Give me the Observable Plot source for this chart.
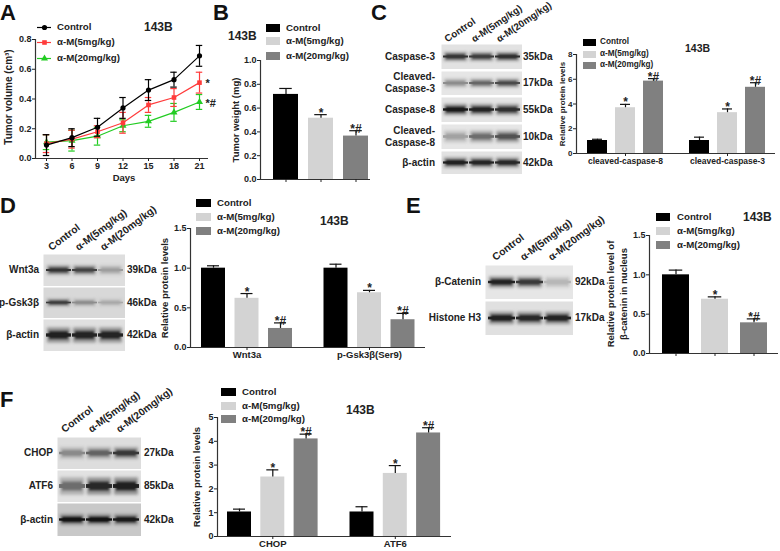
<!DOCTYPE html>
<html><head><meta charset="utf-8">
<script src="https://cdn.jsdelivr.net/npm/d3@7"></script>
<script src="https://cdn.jsdelivr.net/npm/@observablehq/plot@0.6"></script>
<style>
html,body{margin:0;padding:0;background:#fff}
#fig{position:relative;width:780px;height:551px;overflow:hidden;font-family:"Liberation Sans",Arial,sans-serif;font-weight:bold;color:#222}
#fig>svg{position:absolute;background:transparent}
.t{position:absolute;white-space:pre;line-height:1.12}
.k{position:absolute}
</style></head><body><div id="fig"></div>
<script>
const treatments=["Control","α-M(5mg/kg)","α-M(20mg/kg)"];
const barColors=["#000000","#d3d3d3","#808080"];
const lineColors=["#000000","#ff3b3b","#22cc22"];
const lineSymbols=["circle","square","triangle"];

const days=[3,6,9,12,15,18,21];
const aMeans=[[.09,.14,.21,.34,.46,.53,.69],[.10,.13,.18,.24,.36,.41,.51],[.11,.12,.15,.22,.25,.31,.38]];
const aErrs=[[.07,.06,.06,.07,.07,.05,.07],[.06,.06,.04,.07,.05,.06,.07],[.05,.07,.06,.04,.04,.06,.05]];
const aMarks=["","*","*#"];

const bGroups=[""],bMeans=[[.715,.515,.365]],bErrs=[[.05,.03,.045]],bMarks=[["","*","*#"]];
const cGroups=["cleaved-caspase-8","cleaved-caspase-3"],cMeans=[[1.05,3.7,5.85],[1.05,3.3,5.35]],cErrs=[[.1,.27,.2],[.27,.3,.37]],cMarks=[["","*","*#"],["","*","*#"]];
const dGroups=["Wnt3a","p-Gsk3β(Ser9)"],dMeans=[[1,.62,.24],[1,.69,.35]],dErrs=[[.03,.06,.07],[.05,.03,.08]],dMarks=[["","*","*#"],["","*","*#"]];
const eGroups=[""],eMeans=[[1,.69,.39]],eErrs=[[.06,.03,.05]],eMarks=[["","*","*#"]];
const fGroups=["CHOP","ATF6"],fMeans=[[1.03,2.5,4.1],[1.03,2.65,4.35]],fErrs=[[.12,.3,.2],[.22,.33,.22]],fMarks=[["","*","*#"],["","*","*#"]];

const cBlots=["Caspase-3","Cleaved-\nCaspase-3","Caspase-8","Cleaved-\nCaspase-8","β-actin"],cKda=["35kDa","17kDa","55kDa","10kDa","42kDa"];
const cDark=[[.82,.78,.85],[.4,.58,.72],[.95,.9,.85],[.3,.55,.68],[.92,.9,.88]],cThick=[.2,.2,.24,.26,.24];
const cBg=["#e2e2e2","#e6e6e6","#e4e4e4","#e6e6e6","#e2e2e2"];
const dBlots=["Wnt3a","p-Gsk3β","β-actin"],dKda=["39kDa","46kDa","42kDa"];
const dDark=[[.82,.75,.32],[.78,.4,.26],[.92,.9,.9]],dThick=[.16,.13,.26];
const dBg=["#dedede","#d8d8d8","#e0e0e0"];
const eBlots=["β-Catenin","Histone H3"],eKda=["92kDa","17kDa"];
const eDark=[[.9,.8,.2],[.92,.88,.9]],eThick=[.18,.2];
const eBg=["#e6e6e6","#e0e0e0"];
const fBlots=["CHOP","ATF6","β-actin"],fKda=["27kDa","85kDa","42kDa"];
const fDark=[[.42,.6,.8],[.55,.88,.92],[.98,.98,.95]],fThick=[.2,.3,.18];
const fBg=["#dddddd","#e2e2e2","#c8c8c8"];

const fig=document.getElementById("fig");
const FONT='"Liberation Sans",Arial,sans-serif';
function text(s,x,y,o={}){
  const e=document.createElement("div");e.className="t";e.textContent=s;
  const size=o.size||10;e.style.fontSize=size+"px";
  if(o.color)e.style.color=o.color;
  if(o.lh)e.style.lineHeight=o.lh;
  e.style.textAlign=o.align||"left";
  e.style.left=x+"px";e.style.top=y+"px";
  const tx=o.align==="right"?"-100%":o.align==="center"?"-50%":"0";
  e.style.transform=o.rotate?`translateY(-100%) rotate(${o.rotate}deg)`:`translate(${tx},-50%)`;
  if(o.rotate)e.style.transformOrigin="0 100%";
  fig.appendChild(e);
}
function letter(s,x,y){text(s,x,y,{size:22,color:"#111",lh:1.15});}
function put(p,left,top){p.style.left=left+"px";p.style.top=top+"px";fig.appendChild(p);}
function swatch(x,y,w,h,c){const e=document.createElement("div");e.className="k";Object.assign(e.style,{left:x+"px",top:y-h/2+"px",width:w+"px",height:h+"px",background:c});fig.appendChild(e);}
function legend(x,w,h,tx,ys,size){treatments.forEach((t,i)=>{swatch(x,ys[i],w,h,barColors[i]);text(t,tx,ys[i],{size});});}
function lanes(xs,ys,size,angle=-37){treatments.forEach((t,i)=>text(t,xs[i],ys,{size,rotate:angle}));}

function bars(o){
  const {groups,means,errs,marks,ax,right,top,bottom,max,ticks,fmt,first,barW,pitch,groupPitch,tick,title,titleOff,titleSize,catSize,perBar,lh}=o;
  const step=(groupPitch||0)/pitch, half=barW/pitch/2;
  const rows=groups.flatMap((g,gi)=>treatments.map((t,mi)=>({t,mi,pos:gi*step+mi,v:means[gi][mi],e:errs[gi][mi],m:marks[gi][mi]})));
  const ml=34,mt=8,mb=20,mr=2;
  const xd=[(ax-first)/pitch,(right-first)/pitch];
  const centers=perBar?[0,1,2]:groups.map((g,i)=>i*step+1);
  const p=Plot.plot({
    width:right-ax+ml+mr,height:bottom-top+mt+mb,marginLeft:ml,marginRight:mr,marginTop:mt,marginBottom:mb,
    style:{fontFamily:FONT,fontWeight:"bold",color:"#222",overflow:"visible",background:"transparent"},
    x:{domain:xd,axis:null},y:{domain:[0,max],axis:null},
    marks:[
      Plot.rect(rows,{x1:d=>d.pos-half,x2:d=>d.pos+half,y1:0,y2:"v",fill:d=>barColors[d.mi]}),
      Plot.ruleX(rows,{x:"pos",y1:"v",y2:d=>d.v+d.e,stroke:"#111",strokeWidth:1.2}),
      Plot.ruleY(rows,{x1:d=>d.pos-half*.5,x2:d=>d.pos+half*.5,y:d=>d.v+d.e,stroke:"#111",strokeWidth:1.2}),
      Plot.text(rows,{x:"pos",y:d=>d.v+d.e,text:"m",dy:2,lineAnchor:"bottom",fontSize:12,fill:"#222"}),
      Plot.ruleY([0],{stroke:"#333",strokeWidth:1.2}),
      Plot.ruleX([xd[0]],{y1:0,y2:max,stroke:"#333",strokeWidth:1.2}),
      Plot.axisY({ticks,tickFormat:fmt,tickSize:3,tickPadding:1,fontSize:tick,label:null,fontWeight:"bold"}),
      Plot.axisX({ticks:centers,tickFormat:(d,i)=>perBar?"":groups[i],tickSize:3,tickPadding:1,fontSize:catSize,label:null,fontWeight:"bold"})
    ]});
  put(p,ax-ml,top-mt);
  text(title,titleOff,(top+bottom)/2,{size:titleSize,align:"center",lh});
  fig.lastChild.style.transform="translate(-50%,-50%) rotate(-90deg)";
}

function gel(x1,x2,strips,dark,thick,bgs){
  strips.forEach((s,si)=>{
    const rows=treatments.map((t,i)=>({t,d:dark[si][i]}));
    const shade=v=>{const c=Math.round(225-210*v);return d3.rgb(c,c,c).formatHex();};
    const soft=v=>{const c=Math.round(222-85*v);return d3.rgb(c,c,c).formatHex();};
    const h=thick[si];
    const p=Plot.plot({width:x2-x1,height:s[1]-s[0],margin:0,
      style:{background:"transparent"},
      x:{domain:treatments,axis:null,padding:.04,paddingOuter:.06},y:{domain:[0,1],axis:null},
      marks:[
        Plot.frame({fill:bgs[si],stroke:null}),
        Plot.barY(rows,{x:"t",y1:.5-h*.9,y2:.5+h*.9,insetLeft:1,insetRight:1,fill:d=>soft(d.d),imageFilter:"blur(1.4px)"}),
        Plot.barY(rows,{x:"t",y1:.5-h*.2,y2:.5+h*.2,fill:d=>shade(d.d),imageFilter:"blur(.6px)"}),
        Plot.barY(rows,{x:"t",y1:.5-h*.45,y2:.5+h*.45,insetLeft:3,insetRight:3,fill:d=>shade(d.d),imageFilter:"blur(.8px)"})
      ]});
    put(p,x1,s[0]);
  });
}
function blotLabels(names,kda,strips,lx,kx,size){
  names.forEach((n,i)=>{const y=(strips[i][0]+strips[i][1])/2;text(n,lx,y,{size,align:"right",lh:1.2});text(kda[i],kx,y,{size});});
}

/* A */
letter("A",0,13);
{
  const rows=treatments.flatMap((t,s)=>days.map((day,i)=>({t,s,day,v:aMeans[s][i],e:aErrs[s][i]})));
  const ends=treatments.map((t,s)=>({s,day:21,v:aMeans[s][6],m:aMarks[s]})).filter(d=>d.m);
  const byS=s=>rows.filter(d=>d.s===s);
  const ml=34,mt=8,mb=28,mr=4,ax=35,right=208,top=39,bottom=158;
  const pitch=(199-46)/18, xd=[3+(ax-46)/pitch,21+(right-199)/pitch];
  const marks=[];
  [2,1,0].forEach(s=>{
    const c=lineColors[s],R=byS(s);
    marks.push(
      Plot.ruleX(R,{x:"day",y1:d=>d.v-d.e,y2:d=>d.v+d.e,stroke:c,strokeWidth:1.2}),
      Plot.ruleY(R,{x1:d=>d.day-.38,x2:d=>d.day+.38,y:d=>d.v+d.e,stroke:c,strokeWidth:1.2}),
      Plot.ruleY(R,{x1:d=>d.day-.38,x2:d=>d.day+.38,y:d=>d.v-d.e,stroke:c,strokeWidth:1.2}),
      Plot.line(R,{x:"day",y:"v",stroke:c,strokeWidth:1.2}),
      Plot.dot(R,{x:"day",y:"v",fill:c,symbol:()=>lineSymbols[s],r:2.6})
    );
  });
  marks.push(
    Plot.text(ends,{x:"day",y:"v",text:"m",dx:6,textAnchor:"start",dy:1,fontSize:11,fill:"#222"}),
    Plot.ruleY([0],{stroke:"#333",strokeWidth:1.2}),
    Plot.ruleX([xd[0]],{y1:0,y2:.8,stroke:"#333",strokeWidth:1.2}),
    Plot.axisY({ticks:[0,.2,.4,.6,.8],tickFormat:d3.format(".1f"),tickSize:3,tickPadding:1,fontSize:9,label:null,fontWeight:"bold"}),
    Plot.axisX({ticks:days,tickSize:3,tickPadding:1,fontSize:9,label:null,fontWeight:"bold"})
  );
  put(Plot.plot({width:right-ax+ml+mr,height:bottom-top+mt+mb,marginLeft:ml,marginRight:mr,marginTop:mt,marginBottom:mb,
    style:{fontFamily:FONT,fontWeight:"bold",color:"#222",overflow:"visible",background:"transparent"},
    x:{domain:xd,axis:null},y:{domain:[0,.8],axis:null},marks}),ax-ml,top-mt);
  text("Days",124,178,{size:9.5,align:"center"});
  text("Tumor volume (cm³)",9,97,{size:10,align:"center"});fig.lastChild.style.transform="translate(-50%,-50%) rotate(-90deg)";
  treatments.forEach((t,i)=>{
    const y=[27,42,58][i];
    put(Plot.plot({width:14,height:10,margin:0,style:{background:"transparent"},x:{domain:[0,1],axis:null},y:{domain:[0,1],axis:null},
      marks:[Plot.ruleY([.5],{stroke:lineColors[i],strokeWidth:1.2}),Plot.dot([.5],{x:d=>d,y:.5,fill:lineColors[i],symbol:()=>lineSymbols[i],r:2.6})]}),37,y-5);
    text(t,57,y,{size:9.7});
  });
  text("143B",144,28,{size:12});
}
/* B */
letter("B",213,13);
text("143B",228,37,{size:12});
legend(266,14,8.5,286,[28,41,56],9.7);
bars({groups:bGroups,means:bMeans,errs:bErrs,marks:bMarks,ax:260,right:370,top:60,bottom:179,max:1,ticks:[0,.2,.4,.6,.8,1],fmt:d3.format(".1f"),first:285.5,barW:25,pitch:35,tick:9,title:"Tumor weight (mg)",titleOff:236,titleSize:9.5,catSize:8,perBar:true});

/* C */
letter("C",371,13);
{
  const s=[[44,69],[71,95],[97,122],[124,149],[151,174]];
  gel(441,522,s,cDark,cThick,cBg);
  blotLabels(cBlots,cKda,s,435,523,10);
  lanes([449,476,501],45,9.8,-34);
}
legend(583,13,7,600,[42,54,65],8.2);
text("143B",685,49,{size:10.5});
bars({groups:cGroups,means:cMeans,errs:cErrs,marks:cMarks,ax:576,right:775,top:54,bottom:153,max:8,ticks:[0,2,4,6,8],fmt:d3.format("d"),first:597,barW:20,pitch:28,groupPitch:102,tick:8,title:"Relative protein levels",titleOff:563,titleSize:8,catSize:8.5});

/* D */
letter("D",0,206);
{
  const s=[[254,286],[287,318],[319,351]];
  gel(43,125,s,dDark,dThick,dBg);
  blotLabels(dBlots,dKda,s,39,127,10);
  lanes([53,80,105],253,10.3);
}
legend(196,15,8,217,[203,217,231],9.7);
text("143B",320,222,{size:12});
bars({groups:dGroups,means:dMeans,errs:dErrs,marks:dMarks,ax:190,right:425,top:228,bottom:347,max:1.5,ticks:[0,.5,1,1.5],fmt:d3.format(".1f"),first:213,barW:24,pitch:33.5,groupPitch:122.5,tick:9,title:"Relative protein levels",titleOff:165,titleSize:9.5,catSize:9.5});

/* E */
letter("E",406,206);
{
  const s=[[265,299],[301,335]];
  gel(485,573,s,eDark,eThick,eBg);
  blotLabels(eBlots,eKda,s,481,575,10);
  lanes([497,525,553],263,10.3);
}
legend(656,14,8,677,[217,231,245],9.7);
text("143B",743,218,{size:12});
bars({groups:eGroups,means:eMeans,errs:eErrs,marks:eMarks,ax:649,right:778,top:235,bottom:353,max:1.5,ticks:[0,.5,1,1.5],fmt:d3.format(".1f"),first:675.5,barW:27,pitch:39,tick:9,title:"Relative protein level of\nβ-catenin in nucleus",titleOff:618,titleSize:9.5,catSize:8,perBar:true,lh:1.35});

/* F */
letter("F",0,400);
{
  const s=[[437,469],[470,502],[503,536]];
  gel(57,141,s,fDark,fThick,fBg);
  blotLabels(fBlots,fKda,s,53,144,10);
  lanes([66,93,121],435,10.3);
}
legend(221,15,8,242,[392,406,419],9.7);
text("143B",346,411,{size:12});
bars({groups:fGroups,means:fMeans,errs:fErrs,marks:fMarks,ax:217,right:451,top:417,bottom:536,max:5,ticks:[0,1,2,3,4,5],fmt:d3.format("d"),first:239,barW:24,pitch:33.3,groupPitch:122.5,tick:9,title:"Relative protein levels",titleOff:197,titleSize:9.5,catSize:9.5});
</script></body></html>
